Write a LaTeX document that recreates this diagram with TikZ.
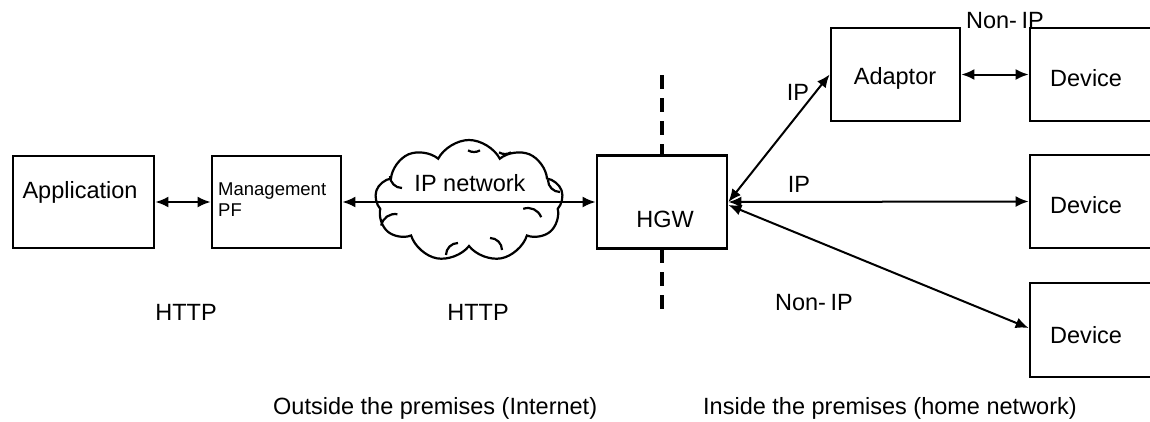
\documentclass[tikz,border=0pt]{standalone}
\usepackage{fontspec}
\setmainfont{Liberation Sans}
\usetikzlibrary{arrows.meta,shapes.symbols,calc}

\tikzset{
  box/.style={draw, line width=2.8pt, inner sep=0pt},
  tip/.tip={Latex[length=13pt,width=11pt]},
  link/.style={line width=2pt, tip-tip},
  lbl/.style={font=\fontsize{23.5}{28}\selectfont, inner sep=0pt},
  small/.style={font=\fontsize{18.5}{21}\selectfont, inner sep=0pt, align=left},
  border/.style={line width=3.5pt, dash pattern=on 14pt off 9pt},
  puff/.style={line width=2.2pt},
}

\begin{document}
\begin{tikzpicture}[x=1pt, y=-1pt]
  \useasboundingbox (0,0) rectangle (1150,421);
  \clip (0,0) rectangle (1150,421);

  % premises boundary through the gateway
  \coordinate (bt) at (662,75);
  \coordinate (bb) at (662,313);
  \draw[border] (bt) -- (662,155);
  \draw[border] (662,249) -- (bb);

  % outside: application side
  \node[box, minimum width=141pt, minimum height=92pt] (app) at (83.5,202) {};
  \node[lbl] (appt) at (80,192) {Application};
  \node[box, minimum width=129pt, minimum height=92pt] (mgmt) at (276.5,202) {};
  \node[small, anchor=west] (mgmtt) at (218,200) {Management\\PF};

  % IP network cloud, with the inner folds of its puffs
  \node[cloud, draw, line width=2.2pt, cloud puffs=9, cloud puff arc=125,
        aspect=1.55, minimum width=188pt, minimum height=122pt, inner sep=0pt] (net) at (469,201) {};
  \draw[puff] (395,228) ++(190:14) arc[start angle=190, end angle=280, radius=14];
  \draw[puff] (528,222) ++(250:14) arc[start angle=250, end angle=340, radius=14];
  \draw[puff] (458,255) ++(180:12) arc[start angle=180, end angle=270, radius=12];
  \draw[puff] (490,250) ++(270:12) arc[start angle=270, end angle=360, radius=12];
  \draw[puff] (560,180) ++(90:12) arc[start angle=90, end angle=180, radius=12];
  \draw[puff] (402,176) ++(90:12) arc[start angle=90, end angle=180, radius=12];
  \draw[puff] (474,140) ++(60:12) arc[start angle=60, end angle=120, radius=12];
  \draw[puff] (505,142) ++(60:12) arc[start angle=60, end angle=120, radius=12];
  \node[lbl] (nett) at (470,183) {IP network};

  % home gateway
  \node[box, fill=white, minimum width=130pt, minimum height=93pt] (hgw) at (662,202) {};
  \node[lbl] (hgwt) at (665,219) {HGW};

  % inside: adaptor and devices
  \node[box, minimum width=129pt, minimum height=93pt] (adp) at (895.5,74.5) {};
  \node[lbl] (adpt) at (895,78) {Adaptor};
  \node[box, minimum width=130pt, minimum height=93pt] (dev1) at (1095,74.5) {};
  \node[box, minimum width=130pt, minimum height=93pt] (dev2) at (1095,201.5) {};
  \node[box, minimum width=130pt, minimum height=94pt] (dev3) at (1095,330) {};
  \node[lbl, anchor=west] (dev1t) at (1050,78) {Device};
  \node[lbl, anchor=west] (dev2t) at (1050,205) {Device};
  \node[lbl, anchor=west] (dev3t) at (1050,335) {Device};

  % connectors
  \draw[link] (app.east) -- (mgmt.west);
  \draw[link] (mgmt.east) -- (hgw.west);
  \draw[link] (hgw.east) -- (adp.west);
  \draw[link] (hgw.east) -- (dev2.west);
  \draw[link] ($(hgw.east)+(0,3)$) -- ($(dev3.west)+(0,-2)$);
  \draw[link] (adp.east) -- (dev1.west);

  % link labels
  \node[lbl] (ip1) at (798,92) {IP};
  \node[lbl] (ip2) at (799,184) {IP};
  \node[lbl] (nip1) at (814,303) {Non-\kern0.2em IP};
  \node[lbl] (nip2) at (1005,21) {Non-\kern0.2em IP};
  \node[lbl] (http1) at (186,312) {HTTP};
  \node[lbl] (http2) at (478,312) {HTTP};

  % areas
  \node[lbl, anchor=base west] (outside) at (273,414) {Outside the premises (Internet)};
  \node[lbl, anchor=base west] (inside) at (703,414) {Inside the premises (home network)};
\end{tikzpicture}
\end{document}
